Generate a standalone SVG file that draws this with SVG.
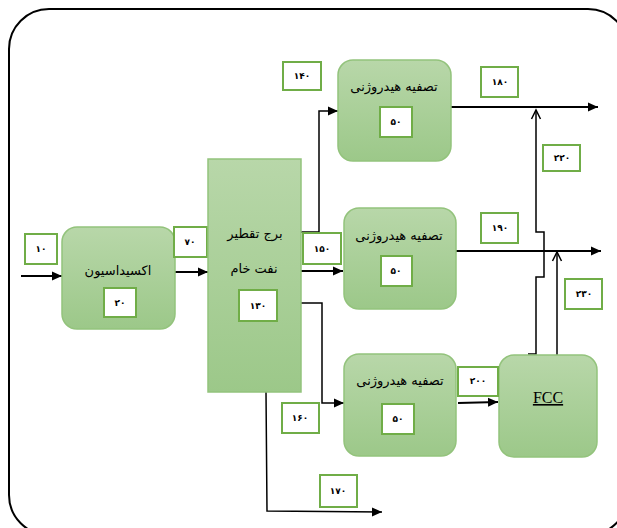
<svg xmlns="http://www.w3.org/2000/svg" width="617" height="528" viewBox="0 0 617 528">
<defs>
<linearGradient id="g" x1="0" y1="0" x2="0" y2="1">
<stop offset="0" stop-color="#b8d7a9"/>
<stop offset="1" stop-color="#9cc889"/>
</linearGradient>
<marker id="fa" markerUnits="userSpaceOnUse" markerWidth="10" markerHeight="10" refX="10" refY="5" orient="auto">
<path d="M0,0.5 L10,5 L0,9.5 z" fill="#000"/>
</marker>
<marker id="oa" markerUnits="userSpaceOnUse" markerWidth="12" markerHeight="12" refX="10" refY="6" orient="auto">
<path d="M1,1.5 L10,6 L1,10.5" fill="none" stroke="#000" stroke-width="1.5"/>
</marker>
<style>
.node{fill:url(#g);stroke:#93c37c;stroke-width:1.5}
.lbl{fill:#fff;stroke:#70ad47;stroke-width:2}
.num{font-family:"DejaVu Sans",sans-serif;font-size:9px;font-weight:bold;fill:#000;text-anchor:middle}
.fa{font-family:"DejaVu Sans",sans-serif;font-size:13px;fill:#000;text-anchor:middle}
.ln{fill:none;stroke:#000;stroke-width:1.8}
.ln2{fill:none;stroke:#000;stroke-width:1.5}
</style>
</defs>
<rect x="9" y="9" width="619" height="526" rx="40" ry="40" fill="none" stroke="#000" stroke-width="2"/>

<g id="connectors">
<line class="ln" x1="21" y1="276" x2="62" y2="276" marker-end="url(#fa)"/>
<line class="ln" x1="175" y1="272" x2="208" y2="272" marker-end="url(#fa)"/>
<polyline class="ln2" points="301,232 319,232 319,111 338,111" marker-end="url(#fa)"/>
<line class="ln" x1="301" y1="271" x2="343" y2="271" marker-end="url(#fa)"/>
<polyline class="ln2" points="301,303 322,303 322,403 344,403" marker-end="url(#fa)"/>
<polyline class="ln2" points="266,392 267,511 382,512" marker-end="url(#fa)"/>
<line class="ln" x1="451" y1="107" x2="598" y2="107" marker-end="url(#fa)"/>
<line class="ln" x1="456" y1="251" x2="601" y2="251" marker-end="url(#fa)"/>
<line class="ln" x1="458" y1="403" x2="498" y2="402" marker-end="url(#fa)"/>
<polyline class="ln2" points="528,354 536,354 536,277 544,277 544,232 536,232 536,110" marker-end="url(#oa)"/>
<line class="ln2" x1="557" y1="355" x2="557" y2="252" marker-end="url(#oa)"/>
</g>

<g id="n10"><rect class="lbl" x="25" y="234" width="32" height="30"/><text class="num" x="41" y="252">۱۰</text></g>

<g id="oxidation">
<rect class="node" x="62" y="227" width="113" height="102" rx="15"/>
<text class="fa" x="118" y="275">اکسیداسیون</text>
<rect class="lbl" x="104" y="288" width="32" height="29"/><text class="num" x="120" y="306">۲۰</text>
</g>

<g id="n70"><rect class="lbl" x="174" y="227" width="33" height="30"/><text class="num" x="190" y="245">۷۰</text></g>

<g id="tower">
<rect x="208" y="159" width="93" height="233" fill="url(#g)" stroke="#93c37c" stroke-width="1.5"/>
<text class="fa" x="255" y="238">برج تقطیر</text>
<text class="fa" x="254" y="273">نفت خام</text>
<rect class="lbl" x="239" y="290" width="38" height="31"/><text class="num" x="258" y="309">۱۳۰</text>
</g>

<g id="n140"><rect class="lbl" x="283" y="62" width="38" height="28"/><text class="num" x="302" y="79">۱۴۰</text></g>
<g id="n150"><rect class="lbl" x="303" y="233" width="38" height="31"/><text class="num" x="322" y="252">۱۵۰</text></g>
<g id="n160"><rect class="lbl" x="282" y="403" width="37" height="30"/><text class="num" x="300" y="421">۱۶۰</text></g>
<g id="n170"><rect class="lbl" x="320" y="475" width="37" height="32"/><text class="num" x="338" y="494">۱۷۰</text></g>

<g id="hydro1">
<rect class="node" x="338" y="60" width="113" height="101" rx="15"/>
<text class="fa" x="394" y="91">تصفیه هیدروژنی</text>
<rect class="lbl" x="380" y="107" width="32" height="30"/><text class="num" x="396" y="125">۵۰</text>
</g>

<g id="hydro2">
<rect class="node" x="344" y="208" width="112" height="101" rx="15"/>
<text class="fa" x="399" y="240">تصفیه هیدروژنی</text>
<rect class="lbl" x="381" y="256" width="31" height="30"/><text class="num" x="396" y="274">۵۰</text>
</g>

<g id="hydro3">
<rect class="node" x="344" y="354" width="112" height="102" rx="15"/>
<text class="fa" x="400" y="385">تصفیه هیدروژنی</text>
<rect class="lbl" x="382" y="404" width="32" height="30"/><text class="num" x="398" y="422">۵۰</text>
</g>

<g id="fcc">
<rect class="node" x="499" y="355" width="98" height="102" rx="15"/>
<text x="548" y="403" font-family="Liberation Serif, serif" font-size="16" text-anchor="middle" text-decoration="underline" fill="#000">FCC</text>
</g>

<g id="n180"><rect class="lbl" x="481" y="67" width="37" height="30"/><text class="num" x="500" y="85">۱۸۰</text></g>
<g id="n190"><rect class="lbl" x="481" y="213" width="37" height="30"/><text class="num" x="500" y="231">۱۹۰</text></g>
<g id="n200"><rect class="lbl" x="458" y="367" width="40" height="29"/><text class="num" x="478" y="384">۲۰۰</text></g>
<g id="n220"><rect class="lbl" x="543" y="145" width="37" height="26"/><text class="num" x="562" y="161">۲۲۰</text></g>
<g id="n230"><rect class="lbl" x="565" y="279" width="37" height="30"/><text class="num" x="584" y="297">۲۳۰</text></g>
</svg>
